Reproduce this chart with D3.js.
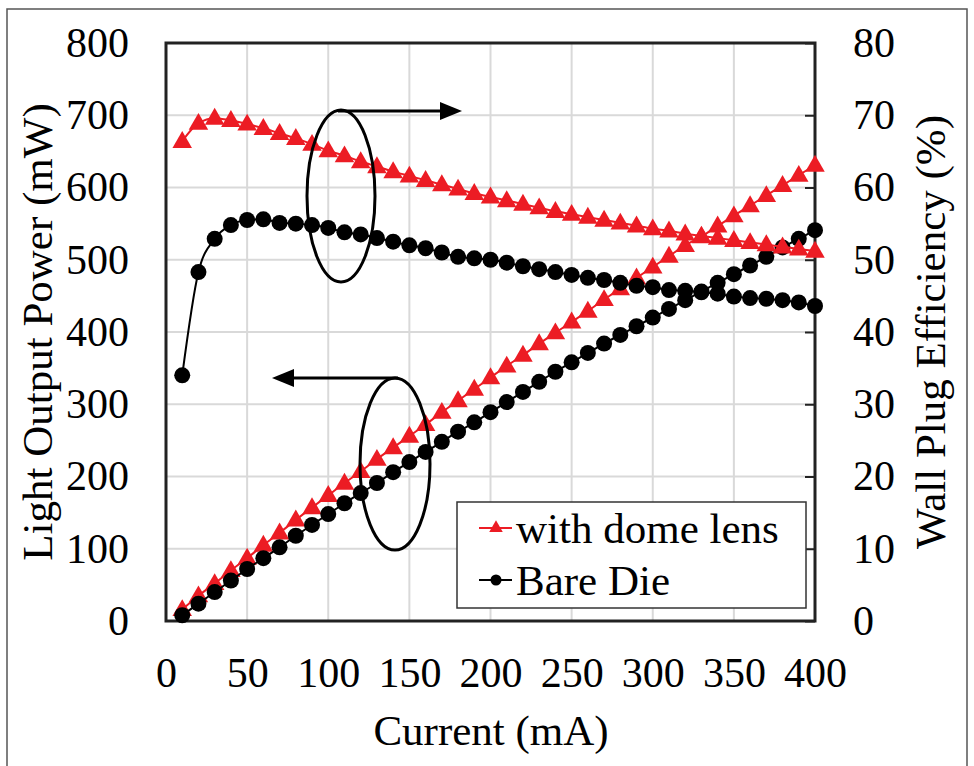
<!DOCTYPE html>
<html>
<head>
<meta charset="utf-8">
<script src="https://cdn.jsdelivr.net/npm/d3@7"></script>
<style>
  html, body { margin: 0; padding: 0; background: #fff; }
  svg { display: block; font-family: "Liberation Serif", "Times New Roman", serif; }
</style>
</head>
<body>
<svg id="chart" width="974" height="766"></svg>
<script>
// Drive current (mA) for every measurement
const currentMA = [10,20,30,40,50,60,70,80,90,100,110,120,130,140,150,160,170,180,190,200,
                   210,220,230,240,250,260,270,280,290,300,310,320,330,340,350,360,370,380,390,400];

// Light output power (mW), left axis
const powerDome = [16,35,52,70,87,105,122,140,157,174,191,207,224,240,256,272,289,305,321,337,
                   353,368,384,399,414,429,445,460,475,490,505,520,532,547,561,575,589,603,617,631];
const powerBare = [8,24,40,56,72,87,102,118,133,148,163,177,191,206,220,234,248,262,275,289,
                   303,317,331,345,358,371,384,396,408,420,432,444,456,468,480,492,504,517,529,541];

// Wall plug efficiency (%), right axis
const effDome = [66.4,68.9,69.6,69.3,68.8,68.2,67.5,66.8,66.0,65.1,64.4,63.6,62.9,62.2,61.6,61.0,60.4,59.8,59.2,58.7,
                 58.2,57.7,57.2,56.7,56.3,55.9,55.5,55.1,54.7,54.3,54.0,53.6,53.3,53.0,52.7,52.4,52.1,51.8,51.5,51.2];
const effBare = [34.0,48.3,52.9,54.8,55.5,55.6,55.1,55.0,54.8,54.4,53.8,53.5,53.0,52.5,52.0,51.6,51.0,50.4,50.2,50.0,
                 49.6,49.1,48.7,48.3,47.9,47.5,47.2,46.8,46.4,46.2,45.8,45.7,45.5,45.3,44.9,44.7,44.6,44.4,44.1,43.6];

const xTicks = [0,50,100,150,200,250,300,350,400];
const yLeftTicks = [0,100,200,300,400,500,600,700,800];
const yRightTicks = [0,10,20,30,40,50,60,70,80];

const seriesNames = ["with dome lens", "Bare Die"];
const RED = "#ec1c24", BLACK = "#000";

const svg = d3.select("#chart");
const plot = { left: 166, right: 815, top: 43, bottom: 621 };

const x = d3.scaleLinear().domain([0, 400]).range([plot.left, plot.right]);
const yL = d3.scaleLinear().domain([0, 800]).range([plot.bottom, plot.top]);
const yR = d3.scaleLinear().domain([0, 80]).range([plot.bottom, plot.top]);

// outer frame
svg.append("rect").attr("x", 7).attr("y", 9).attr("width", 960).attr("height", 800)
  .attr("fill", "none").attr("stroke", "#555").attr("stroke-width", 1.5);

// gridlines
const grid = svg.append("g").attr("stroke", "#d9d9d9").attr("stroke-width", 2);
grid.selectAll("line.v").data(xTicks.slice(1, -1)).join("line")
  .attr("x1", d => x(d)).attr("x2", d => x(d)).attr("y1", plot.top).attr("y2", plot.bottom);
grid.selectAll("line.h").data(yLeftTicks.slice(1, -1)).join("line")
  .attr("x1", plot.left).attr("x2", plot.right).attr("y1", d => yL(d)).attr("y2", d => yL(d));

// axes
const fontSize = 42;
const gx = svg.append("g").attr("transform", `translate(0,${plot.bottom})`)
  .call(d3.axisBottom(x).tickValues(xTicks).tickSize(0).tickPadding(36).tickFormat(d3.format("d")));
const gyL = svg.append("g").attr("transform", `translate(${plot.left},0)`)
  .call(d3.axisLeft(yL).tickValues(yLeftTicks).tickSize(0).tickPadding(37).tickFormat(d3.format("d")));
const gyR = svg.append("g").attr("transform", `translate(${plot.right},0)`)
  .call(d3.axisRight(yR).tickValues(yRightTicks).tickSize(-10).tickPadding(38).tickFormat(d3.format("d")));
[gx, gyL, gyR].forEach(g => {
  g.select(".domain").remove();
  g.selectAll("text").attr("font-size", fontSize).attr("fill", "#000")
    .attr("font-family", "Liberation Serif, Times New Roman, serif");
  g.selectAll("line").attr("stroke", "#222").attr("stroke-width", 2);
});

// plot border
svg.append("rect").attr("x", plot.left).attr("y", plot.top)
  .attr("width", plot.right - plot.left).attr("height", plot.bottom - plot.top)
  .attr("fill", "none").attr("stroke", "#222").attr("stroke-width", 3);

// series
const tri = d3.symbol().type(d3.symbolTriangle).size(165);
function drawSeries(values, yScale, color, marker) {
  const pts = currentMA.map((c, i) => [x(c), yScale(values[i])]);
  svg.append("path").attr("d", d3.line().curve(d3.curveMonotoneX)(pts))
    .attr("fill", "none").attr("stroke", color).attr("stroke-width", 2);
  const g = svg.append("g");
  if (marker === "tri") {
    g.selectAll("path").data(pts).join("path")
      .attr("transform", d => `translate(${d[0]},${d[1] + 1})`)
      .attr("d", tri).attr("fill", color);
  } else {
    g.selectAll("circle").data(pts).join("circle")
      .attr("cx", d => d[0]).attr("cy", d => d[1]).attr("r", 8).attr("fill", color);
  }
}
drawSeries(powerDome, yL, RED, "tri");
drawSeries(powerBare, yL, BLACK, "circle");
drawSeries(effDome, yR, RED, "tri");
drawSeries(effBare, yR, BLACK, "circle");

// annotation ellipses and arrows
const ann = svg.append("g").attr("stroke", "#000").attr("stroke-width", 3).attr("fill", "none");
ann.append("ellipse").attr("cx", 341).attr("cy", 196).attr("rx", 34).attr("ry", 86);
ann.append("ellipse").attr("cx", 395).attr("cy", 464).attr("rx", 35).attr("ry", 86);
ann.append("line").attr("x1", 338).attr("y1", 111).attr("x2", 445).attr("y2", 111);
ann.append("line").attr("x1", 398).attr("y1", 378).attr("x2", 290).attr("y2", 378);
svg.append("path").attr("d", "M462,111 L440,102 L440,120 Z").attr("fill", "#000");
svg.append("path").attr("d", "M272,378 L294,369 L294,387 Z").attr("fill", "#000");

// axis titles
svg.append("text").attr("x", 491).attr("y", 745).attr("text-anchor", "middle")
  .attr("font-size", 43).text("Current (mA)");
svg.append("text").attr("transform", `translate(52,${(plot.top + plot.bottom) / 2}) rotate(-90)`)
  .attr("text-anchor", "middle").attr("font-size", 43).text("Light Output Power (mW)");
svg.append("text").attr("transform", `translate(945,${(plot.top + plot.bottom) / 2}) rotate(-90)`)
  .attr("text-anchor", "middle").attr("font-size", 43).text("Wall Plug Efficiency (%)");

// legend
const lg = svg.append("g");
lg.append("rect").attr("x", 457).attr("y", 502).attr("width", 349).attr("height", 106)
  .attr("fill", "#fff").attr("stroke", "#333").attr("stroke-width", 1.5);
const legendRows = [
  { name: seriesNames[0], color: RED, marker: "tri", y: 528, base: 543 },
  { name: seriesNames[1], color: BLACK, marker: "circle", y: 580, base: 595 }
];
legendRows.forEach(r => {
  lg.append("line").attr("x1", 479).attr("x2", 512).attr("y1", r.y).attr("y2", r.y)
    .attr("stroke", r.color).attr("stroke-width", 2);
  if (r.marker === "tri") {
    lg.append("path").attr("d", d3.symbol().type(d3.symbolTriangle).size(80))
      .attr("transform", `translate(496,${r.y})`).attr("fill", r.color);
  } else {
    lg.append("circle").attr("cx", 496).attr("cy", r.y).attr("r", 5.5).attr("fill", r.color);
  }
  lg.append("text").attr("x", 516).attr("y", r.base).attr("font-size", 43).text(r.name);
});
</script>
</body>
</html>
